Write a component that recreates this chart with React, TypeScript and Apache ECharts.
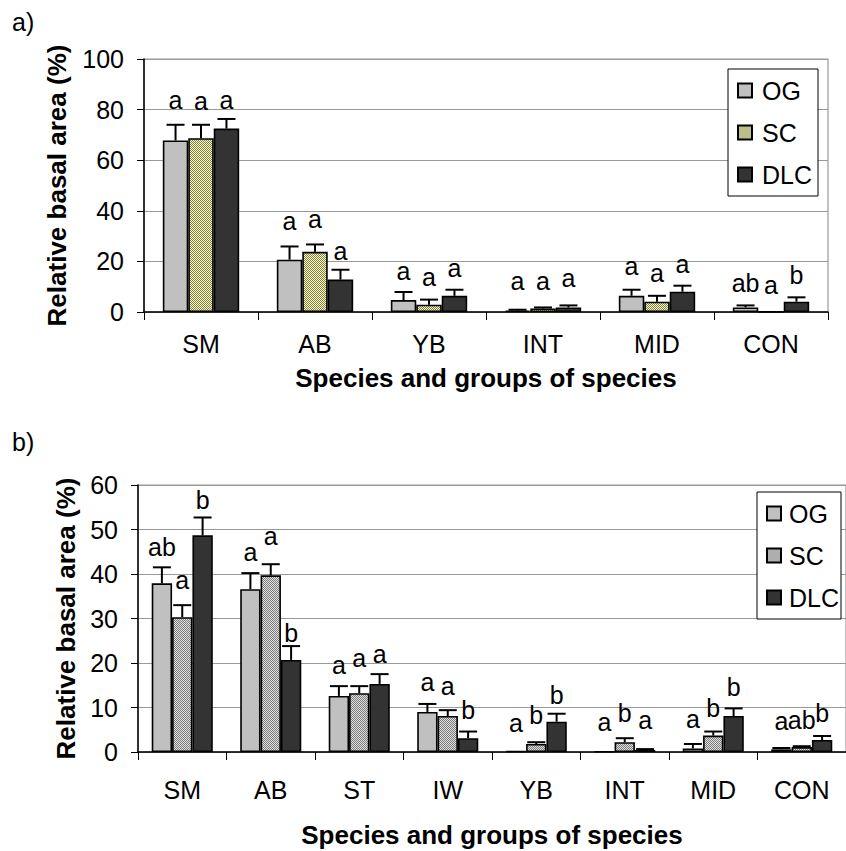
import React, { useEffect, useRef } from "react";
import * as echarts from "echarts";

// ---------- Data: chart a) ----------
const categoriesA = ["SM", "AB", "YB", "INT", "MID", "CON"];
const ogA = [67.8, 20.7, 4.7, 0.6, 6.4, 1.8];
const ogSeA = [6.2, 5.2, 3.2, 0.3, 2.4, 0.8];
const scA = [68.7, 23.8, 2.9, 1.4, 4.1, 0.1];
const scSeA = [5.3, 2.9, 2.0, 0.4, 2.3, 0];
const dlcA = [72.5, 12.8, 6.4, 1.8, 8.0, 4.1];
const dlcSeA = [3.8, 3.9, 2.4, 0.8, 2.4, 1.7];
const ogLettersA = ["a", "a", "a", "a", "a", "ab"];
const scLettersA = ["a", "a", "a", "a", "a", "a"];
const dlcLettersA = ["a", "a", "a", "a", "a", "b"];
const ogLetterPosA = [83.2, 35.1, 15.4, 11.4, 17.4, 11.4];
const scLetterPosA = [82.5, 35.8, 13.0, 11.4, 14.7, 9.9];
const dlcLetterPosA = [83.2, 23.3, 16.7, 12.5, 18.0, 14.7];
const yTicksA = { min: 0, max: 100, interval: 20 };

// ---------- Data: chart b) ----------
const categoriesB = ["SM", "AB", "ST", "IW", "YB", "INT", "MID", "CON"];
const ogB = [37.9, 36.6, 12.6, 9.0, 0.2, 0.1, 0.8, 0.6];
const ogSeB = [3.6, 3.6, 2.2, 1.8, 0, 0, 1.0, 0.3];
const scB = [30.3, 39.7, 13.2, 8.1, 1.8, 2.2, 3.7, 1.1];
const scSeB = [2.7, 2.5, 1.6, 1.3, 0.4, 0.9, 0.9, 0.2];
const dlcB = [48.7, 20.7, 15.3, 3.1, 6.8, 0.45, 8.1, 2.7];
const dlcSeB = [4.0, 3.1, 2.2, 1.5, 1.8, 0.2, 1.7, 0.9];
const ogLettersB = ["ab", "a", "a", "a", "a", "a", "a", "a"];
const scLettersB = ["a", "a", "a", "a", "b", "b", "b", "ab"];
const dlcLettersB = ["b", "b", "a", "b", "b", "a", "b", "b"];
const ogLetterPosB = [46.1, 44.6, 19.0, 15.3, 6.1, 6.3, 7.0, 6.6];
const scLetterPosB = [38.1, 48.0, 20.7, 14.3, 8.3, 8.7, 10.0, 7.2];
const dlcLetterPosB = [56.6, 26.7, 21.6, 9.4, 12.8, 6.8, 14.5, 8.7];
const yTicksB = { min: 0, max: 60, interval: 10 };

const seriesNames = ["OG", "SC", "DLC"];
const yTitle = "Relative basal area (%)";
const xTitle = "Species and groups of species";

const FONT = '"Liberation Sans", Arial, sans-serif';
const FS = 25;
const TITLE_FS = 26;

function checker(c1: string, c2: string) {
  const cv = document.createElement("canvas");
  cv.width = 2;
  cv.height = 2;
  const ctx = cv.getContext("2d")!;
  ctx.fillStyle = c1;
  ctx.fillRect(0, 0, 2, 2);
  ctx.fillStyle = c2;
  ctx.fillRect(0, 0, 1, 1);
  ctx.fillRect(1, 1, 1, 1);
  return cv;
}

export default function App() {
  const ref = useRef<HTMLDivElement>(null);

  useEffect(() => {
    if (!ref.current) return;
    const chart = echarts.init(ref.current, undefined, { renderer: "svg" });

    const scPatA = { image: checker("#ffffa8", "#7a7a66"), repeat: "repeat" };
    const scPatB = { image: checker("#e0e0e0", "#7c7c7c"), repeat: "repeat" };
    const fillsA = ["#c0c0c0", scPatA, "#333333"];
    const fillsB = ["#c0c0c0", scPatB, "#333333"];

    const gapA = 0.33;
    const gapB = 0.31;

    const makeErr = (
      idx: number,
      vals: number[],
      ses: number[],
      letters: string[],
      pos: number[],
      j: number,
      gap: number
    ) => ({
      type: "custom",
      xAxisIndex: idx,
      yAxisIndex: idx,
      silent: true,
      z: 5,
      clip: false,
      data: vals.map((v, i) => [i, v, v + ses[i]]),
      encode: { x: 0, y: [1, 2] },
      renderItem: (params: any, api: any) => {
        const i = api.value(0);
        const v = api.value(1);
        const e = api.value(2);
        const band = api.size([1, 0])[0];
        const barW = (band * (1 - gap)) / 3;
        const cx = api.coord([i, 0])[0] + (j - 1) * barW;
        const yv = api.coord([i, v])[1];
        const ye = api.coord([i, e])[1];
        const yl = api.coord([i, pos[params.dataIndex]])[1];
        const letter = letters[params.dataIndex];
        const children: any[] = [];
        if (e > v) {
          children.push({
            type: "line",
            shape: { x1: cx, y1: yv, x2: cx, y2: ye },
            style: { stroke: "#000", lineWidth: 2 },
          });
          children.push({
            type: "line",
            shape: { x1: cx - 9, y1: ye, x2: cx + 9, y2: ye },
            style: { stroke: "#000", lineWidth: 2 },
          });
        }
        children.push({
          type: "text",
          x: cx,
          y: yl + (letter === "a" ? -2 : 0),
          style: {
            text: letter,
            fill: "#000",
            fontSize: FS,
            fontFamily: FONT,
            align: "center",
            verticalAlign: "middle",
          },
        });
        return { type: "group", children };
      },
    });

    const makeBar = (idx: number, name: string, vals: number[], fill: any, gap: number) => ({
      type: "bar",
      name,
      xAxisIndex: idx,
      yAxisIndex: idx,
      data: vals,
      barGap: "0%",
      barCategoryGap: Math.round(gap * 100) + "%",
      itemStyle: { color: fill, borderColor: "#000", borderWidth: 1.6 },
      emphasis: { disabled: true },
    });

    const yAxisBase = (ticks: any, gap: number) => ({
      type: "value",
      min: ticks.min,
      max: ticks.max,
      interval: ticks.interval,
      name: yTitle,
      nameLocation: "middle",
      nameGap: gap,
      nameTextStyle: { fontSize: TITLE_FS, fontWeight: "bold", fontFamily: FONT, color: "#000" },
      axisLine: { show: true, lineStyle: { color: "#000", width: 1.5 } },
      axisTick: { show: true, length: 7, lineStyle: { color: "#000", width: 1 } },
      axisLabel: { fontSize: FS, fontFamily: FONT, color: "#000", margin: 20 },
      splitLine: { show: true, lineStyle: { color: "#999", width: 1.2 } },
    });

    const xAxisBase = (cats: string[], margin: number, nameGap: number) => ({
      type: "category",
      data: cats,
      name: xTitle,
      nameLocation: "middle",
      nameGap,
      nameTextStyle: { fontSize: TITLE_FS, fontWeight: "bold", fontFamily: FONT, color: "#000" },
      axisLine: { show: true, lineStyle: { color: "#000", width: 1.5 } },
      axisTick: { show: true, alignWithLabel: false, length: 8, lineStyle: { color: "#000", width: 1 } },
      axisLabel: { fontSize: FS, fontFamily: FONT, color: "#000", margin, interval: 0 },
      splitLine: { show: false },
    });

    const legendBase = (left: number, top: number, names: string[], padRight: number, textGap: number) => ({
      left,
      top,
      orient: "vertical",
      data: names,
      itemWidth: 14,
      itemHeight: 14,
      itemGap: 17,
      icon: "rect",
      padding: [9, padRight, 9, 9],
      borderColor: "#000",
      borderWidth: 1,
      borderRadius: 0,
      backgroundColor: "#fff",
      formatter: (n: string) => n.trim(),
      textStyle: {
        fontSize: FS,
        fontFamily: FONT,
        color: "#000",
        lineHeight: 25,
        padding: [0, 0, 0, textGap],
      },
      selectedMode: false,
    });

    const namesB = seriesNames.map((n) => n + " ");

    const option: any = {
      animation: false,
      backgroundColor: "#fff",
      grid: [
        { left: 144, right: 18, top: 59, bottom: 539, show: true, borderColor: "#999", borderWidth: 1.2, backgroundColor: "transparent" },
        { left: 138, right: -5, top: 485, bottom: 99, show: true, borderColor: "#999", borderWidth: 1.2, backgroundColor: "transparent" },
      ],
      xAxis: [
        { ...xAxisBase(categoriesA, 19, 53), gridIndex: 0 },
        { ...xAxisBase(categoriesB, 25, 70), gridIndex: 1 },
      ],
      yAxis: [
        { ...yAxisBase(yTicksA, 74), gridIndex: 0 },
        { ...yAxisBase(yTicksB, 58), gridIndex: 1 },
      ],
      legend: [
        legendBase(728, 69, seriesNames, 6, 5),
        legendBase(757, 492, namesB, 2, 3),
      ],
      graphic: [
        { type: "text", left: 12, top: 9, style: { text: "a)", fontSize: FS, fontFamily: FONT, fill: "#000" } },
        { type: "text", left: 12, top: 429, style: { text: "b)", fontSize: FS, fontFamily: FONT, fill: "#000" } },
      ],
      series: [
        makeBar(0, seriesNames[0], ogA, fillsA[0], gapA),
        makeBar(0, seriesNames[1], scA, fillsA[1], gapA),
        makeBar(0, seriesNames[2], dlcA, fillsA[2], gapA),
        makeErr(0, ogA, ogSeA, ogLettersA, ogLetterPosA, 0, gapA),
        makeErr(0, scA, scSeA, scLettersA, scLetterPosA, 1, gapA),
        makeErr(0, dlcA, dlcSeA, dlcLettersA, dlcLetterPosA, 2, gapA),
        makeBar(1, namesB[0], ogB, fillsB[0], gapB),
        makeBar(1, namesB[1], scB, fillsB[1], gapB),
        makeBar(1, namesB[2], dlcB, fillsB[2], gapB),
        makeErr(1, ogB, ogSeB, ogLettersB, ogLetterPosB, 0, gapB),
        makeErr(1, scB, scSeB, scLettersB, scLetterPosB, 1, gapB),
        makeErr(1, dlcB, dlcSeB, dlcLettersB, dlcLetterPosB, 2, gapB),
      ],
    };

    chart.setOption(option);
    return () => chart.dispose();
  }, []);

  return (
    <div
      ref={ref}
      style={{ position: "absolute", left: 0, top: 0, width: 846, height: 851, background: "#fff" }}
    />
  );
}
